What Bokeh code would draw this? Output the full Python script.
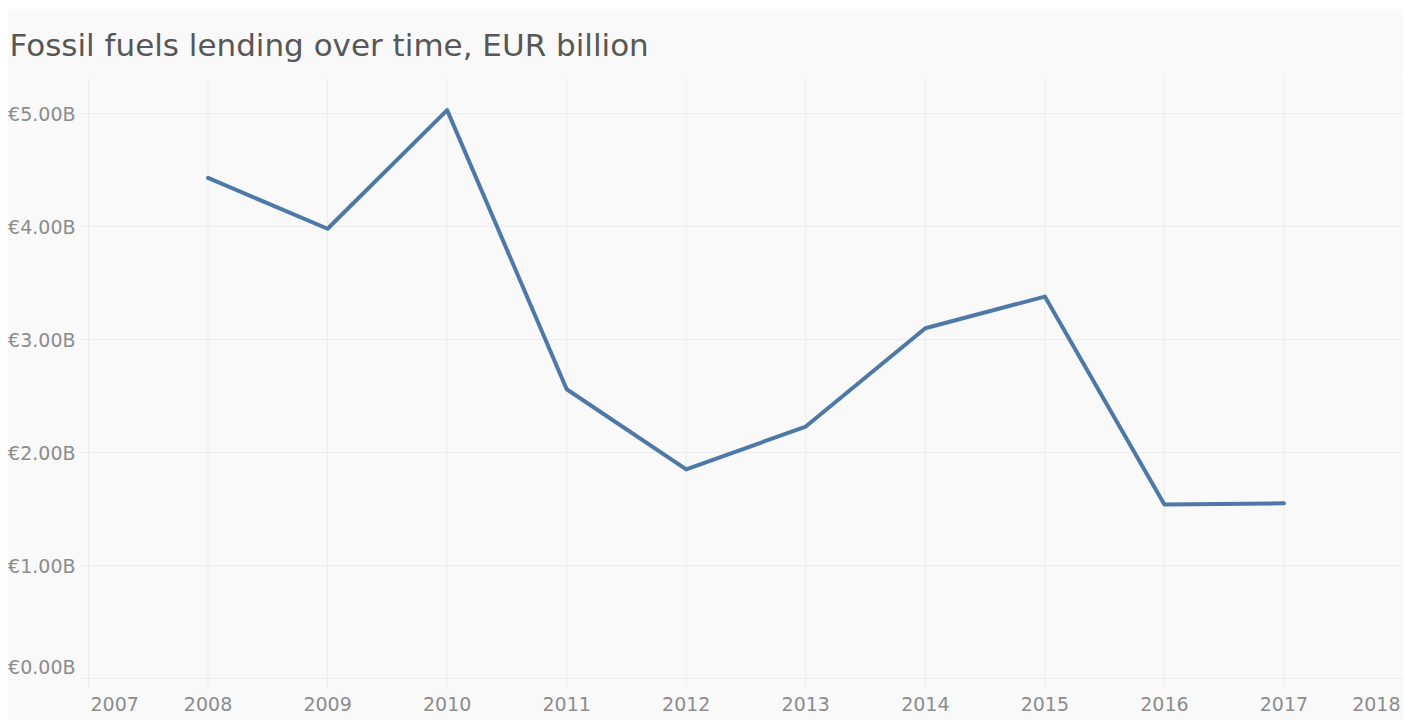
from bokeh.plotting import figure
from bokeh.models import Range1d, Spacer
from bokeh.layouts import column, row
from bokeh.core.properties import value
from bokeh.embed import file_html
from bokeh.resources import INLINE

# ---- data ----
years = [2008, 2009, 2010, 2011, 2012, 2013, 2014, 2015, 2016, 2017]
lending_bn = [4.43, 3.98, 5.03, 2.56, 1.85, 2.23, 3.10, 3.38, 1.54, 1.55]
x_ticks = [2007, 2008, 2009, 2010, 2011, 2012, 2013, 2014, 2015, 2016, 2017, 2018]
x_tick_labels = ["2007", "2008", "2009", "2010", "2011", "2012", "2013", "2014", "2015", "2016", "2017", "2018"]
y_ticks = [0, 1, 2, 3, 4, 5]
y_tick_labels = ["€0.00B", "€1.00B", "€2.00B", "€3.00B", "€4.00B", "€5.00B"]
title_text = "Fossil fuels lending over time, EUR billion"

# ---- layout / style (pixels) ----
W, H = 1396, 712
TOP = 70                 # space for title
PLOT_LEFT = 81           # x pixel of first year gridline
PLOT_BOTTOM = 670        # y pixel of zero line (figure coords)
PX_YEAR = (W - PLOT_LEFT) / (x_ticks[-1] - x_ticks[0])
PX_UNIT = 113.0
GRID_BELOW_PX = 9        # vertical gridlines run a little below zero
HGRID_LEFT_PX = 8        # horizontal gridlines start a little left of first year
XLABEL_PX = 25           # x tick label centre below the zero line
YLABEL_GAP = 13
ZERO_LABEL_LIFT = 12

BG = "#f9f9f9"
GRID = "#ececec"
TICK = "#8c8c8c"
FONT = "DejaVu Sans"

x0 = x_ticks[0] - PLOT_LEFT / PX_YEAR
x1 = x_ticks[-1]
y1 = (PLOT_BOTTOM - TOP) / PX_UNIT
y0 = -(H - PLOT_BOTTOM) / PX_UNIT

p = figure(width=W, height=H, output_backend="svg", toolbar_location=None,
           x_axis_type=None, y_axis_type=None,
           x_range=Range1d(x0, x1), y_range=Range1d(y0, y1),
           min_border_left=0, min_border_right=0, min_border_top=TOP, min_border_bottom=0)
p.background_fill_color = BG
p.border_fill_color = BG
p.outline_line_color = None

p.title.text = title_text
p.title.text_font = FONT
p.title.text_font_size = "31px"
p.title.text_font_style = "normal"
p.title.text_color = "#575757"
p.title.align = "left"
p.title.offset = 2
p.title.standoff = 31

# gridlines
p.segment(x0=x_ticks, x1=x_ticks, y0=[-GRID_BELOW_PX / PX_UNIT] * len(x_ticks), y1=[y1] * len(x_ticks),
          line_color=GRID, line_width=1)
p.segment(x0=[x_ticks[0] - HGRID_LEFT_PX / PX_YEAR] * len(y_ticks), x1=[x1] * len(y_ticks),
          y0=y_ticks, y1=y_ticks, line_color=GRID, line_width=1)

# data line
p.line(years, lending_bn, line_width=4, line_color="#4e79a7", line_join="round", line_cap="round")

# x tick labels
xl_y = -XLABEL_PX / PX_UNIT
common = dict(text_font=value(FONT), text_font_size="19px", text_color=TICK, text_baseline="middle")
p.text(x=x_ticks[1:-1], y=[xl_y] * (len(x_ticks) - 2), text=x_tick_labels[1:-1], text_align="center", **common)
p.text(x=[x_ticks[0]], y=[xl_y], text=[x_tick_labels[0]], text_align="left", x_offset=2, **common)
p.text(x=[x_ticks[-1]], y=[xl_y], text=[x_tick_labels[-1]], text_align="right", x_offset=-3, **common)

# y tick labels (bottom one lifted to stay inside, as in the reference)
yl_y = [t + (ZERO_LABEL_LIFT / PX_UNIT if t == y_ticks[0] else 0) for t in y_ticks]
p.text(x=[x_ticks[0]] * len(y_ticks), y=yl_y, text=y_tick_labels, text_align="right", x_offset=-YLABEL_GAP, **common)

layout = column(Spacer(width=W + 7, height=8), row(Spacer(width=7, height=H), p))
open("out.html", "w").write(file_html(layout, INLINE))
